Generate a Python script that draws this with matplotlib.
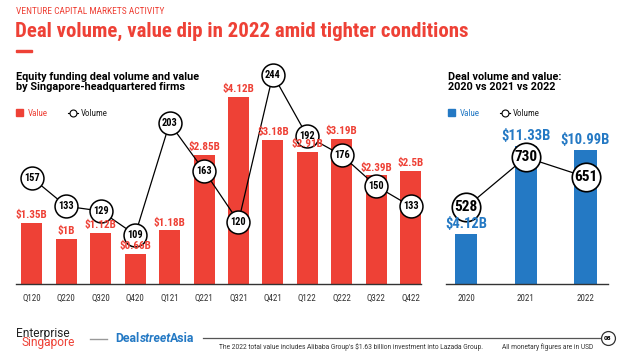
import matplotlib.pyplot as plt
from matplotlib.lines import Line2D
from matplotlib.patches import Rectangle

RED = '#ee4136'
BLUE = '#2479c4'
COND = ['Roboto Condensed', 'Archivo Narrow', 'DejaVu Sans']
SANS = ['Roboto', 'DejaVu Sans']

quarters = ['Q120', 'Q220', 'Q320', 'Q420', 'Q121', 'Q221', 'Q321', 'Q421', 'Q122', 'Q222', 'Q322', 'Q422']
q_value = [1.35, 1.00, 1.12, 0.66, 1.18, 2.85, 4.12, 3.18, 2.91, 3.19, 2.39, 2.50]
q_value_lbl = ['$1.35B', '$1B', '$1.12B', '$0.66B', '$1.18B', '$2.85B', '$4.12B', '$3.18B', '$2.91B', '$3.19B', '$2.39B', '$2.5B']
q_volume = [157, 133, 129, 109, 203, 163, 120, 244, 192, 176, 150, 133]

years = ['2020', '2021', '2022']
y_value = [4.12, 11.33, 10.99]
y_value_lbl = ['$4.12B', '$11.33B', '$10.99B']
y_volume = [528, 730, 651]

W, H = 640, 357
fig = plt.figure(figsize=(W / 100, H / 100), dpi=100)


def fx(px):
    return px / W


def fy(py):
    return 1 - py / H


# header
fig.text(fx(16), fy(12), 'VENTURE CAPITAL MARKETS ACTIVITY', color=RED, fontsize=6.8,
         family=COND, va='center')
fig.text(fx(15), fy(37), 'Deal volume, value dip in 2022 amid tighter conditions', color=RED,
         fontsize=15, fontweight='bold', family=COND, va='baseline')
fig.add_artist(Rectangle((fx(16), fy(52)), fx(16), 2 / H, color=RED, transform=fig.transFigure))

bottom, top = 284, 70


def style_axis(ax):
    for s in ['left', 'right', 'top']:
        ax.spines[s].set_visible(False)
    ax.spines['bottom'].set_color('#333333')
    ax.spines['bottom'].set_linewidth(1.0)
    ax.set_yticks([])
    ax.tick_params(axis='x', length=0, pad=7, labelsize=6.5, labelcolor='#333333')
    for t in ax.get_xticklabels():
        t.set_family(COND)


# ---- left chart: quarterly
axL = fig.add_axes([fx(16), fy(bottom), fx(405), (bottom - top) / H])
xs = range(len(quarters))
axL.bar(xs, q_value, width=0.61, color=RED, zorder=2)
axL.set_xlim(-0.46, 11.3)
axL.set_ylim(0, (bottom - top) / 45.4)
axL.set_xticks(list(xs))
axL.set_xticklabels(quarters)
style_axis(axL)

axL2 = axL.twinx()
axL2.set_ylim((364 - bottom) / 1.186, (364 - top) / 1.186)
axL2.axis('off')
axL2.plot(list(xs), q_volume, color='black', lw=0.9, marker='o', ms=16.5, mfc='white',
          mec='black', mew=1.1, zorder=4, clip_on=False)
for i, v in enumerate(q_volume):
    axL2.text(i, v, str(v), ha='center', va='center', fontsize=7.5, fontweight='bold',
              family=COND, zorder=5)
# value labels drawn on the twin so they stay above the line
for i, (v, s) in enumerate(zip(q_value, q_value_lbl)):
    axL2.annotate(s, (i, v), xycoords=axL.transData, xytext=(0, 2), textcoords='offset points',
                  ha='center', va='bottom', color=RED, fontsize=8, fontweight='bold',
                  family=COND, zorder=6)

fig.text(fx(16), fy(82), 'Equity funding deal volume and value\nby Singapore-headquartered firms',
         fontsize=7.8, fontweight='bold', family=SANS, va='center', linespacing=1.0)

# ---- right chart: yearly
axR = fig.add_axes([fx(446), fy(bottom), fx(162), (bottom - top) / H])
xr = range(len(years))
axR.bar(xr, y_value, width=0.37, color=BLUE, zorder=2)
axR.set_xlim(-0.335, 2.376)
axR.set_ylim(0, (bottom - top) / 12.2)
axR.set_xticks(list(xr))
axR.set_xticklabels(years)
style_axis(axR)

axR2 = axR.twinx()
axR2.set_ylim((338 - bottom) / 0.2475, (338 - top) / 0.2475)
axR2.axis('off')
axR2.plot(list(xr), y_volume, color='black', lw=0.9, marker='o', ms=20.5, mfc='white',
          mec='black', mew=1.2, zorder=4)
for i, v in enumerate(y_volume):
    axR2.text(i, v, str(v), ha='center', va='center', fontsize=11, fontweight='bold',
              family=COND, zorder=5)
for i, (v, s) in enumerate(zip(y_value, y_value_lbl)):
    axR2.annotate(s, (i, v), xycoords=axR.transData, xytext=(0, 2), textcoords='offset points',
                  ha='center', va='bottom', color=BLUE, fontsize=10.5, fontweight='bold',
                  family=COND, zorder=6)

fig.text(fx(448), fy(82), 'Deal volume and value:\n2020 vs 2021 vs 2022',
         fontsize=7.8, fontweight='bold', family=SANS, va='center', linespacing=1.0)


# legends
def legend(x0, color):
    fig.add_artist(Rectangle((fx(x0), fy(116)), fx(7), 7 / H, color=color, transform=fig.transFigure))
    fig.text(fx(x0 + 12), fy(113), 'Value', color=color, fontsize=6.5, family=COND, va='center')
    fig.add_artist(Line2D([fx(x0 + 52), fx(x0 + 62)], [fy(113), fy(113)], color='black', lw=0.8,
                          transform=fig.transFigure))
    fig.add_artist(Line2D([fx(x0 + 57)], [fy(113)], marker='o', ms=5, mfc='white', mec='black',
                          mew=0.8, transform=fig.transFigure))
    fig.text(fx(x0 + 65), fy(113), 'Volume', color='#222222', fontsize=6.5, family=COND, va='center')


legend(16, RED)
legend(448, BLUE)

# footer
fig.text(fx(16), fy(334), 'Enterprise', fontsize=8.6, family=SANS, color='#222222', va='center')
fig.text(fx(22), fy(342.5), 'Singapore', fontsize=8.6, family=SANS, color=RED, va='center')
fig.add_artist(Line2D([fx(90), fx(107)], [fy(339), fy(339)], color='#999999', lw=1,
                      transform=fig.transFigure))
t1 = fig.text(fx(115), fy(339), 'Deal', fontsize=8.8, fontweight='bold', family=SANS, color=BLUE,
              va='center')
t2 = fig.text(0, 0, 'street', fontsize=8.8, fontweight='bold', style='italic', family=SANS, color=BLUE,
              va='center')
t3 = fig.text(0, 0, 'Asia', fontsize=8.8, fontweight='bold', family=SANS, color=BLUE, va='center')
r = fig.canvas.get_renderer()
b1 = t1.get_window_extent(r)
t2.set_position(((b1.x1 + 0.5) / W, fy(339)))
b2 = t2.get_window_extent(r)
t3.set_position(((b2.x1 - 1.5) / W, fy(339)))
fig.add_artist(Line2D([fx(203), fx(601)], [fy(338), fy(338)], color='#555555', lw=0.9,
                      transform=fig.transFigure))
fig.add_artist(Line2D([fx(608)], [fy(338)], marker='o', ms=10, mfc='white', mec='#333333',
                      mew=0.9, transform=fig.transFigure))
fig.text(fx(608), fy(338), '08', fontsize=4, fontweight='bold', ha='center', va='center')
fig.text(fx(219), fy(347), "The 2022 total value includes Alibaba Group's $1.63 billion investment into Lazada Group.",
         fontsize=4.8, family=SANS, color='#333333', va='center')
fig.text(fx(502), fy(347), 'All monetary figures are in USD', fontsize=4.8, family=SANS,
         color='#333333', va='center')

fig.savefig('out.png', dpi=100)
